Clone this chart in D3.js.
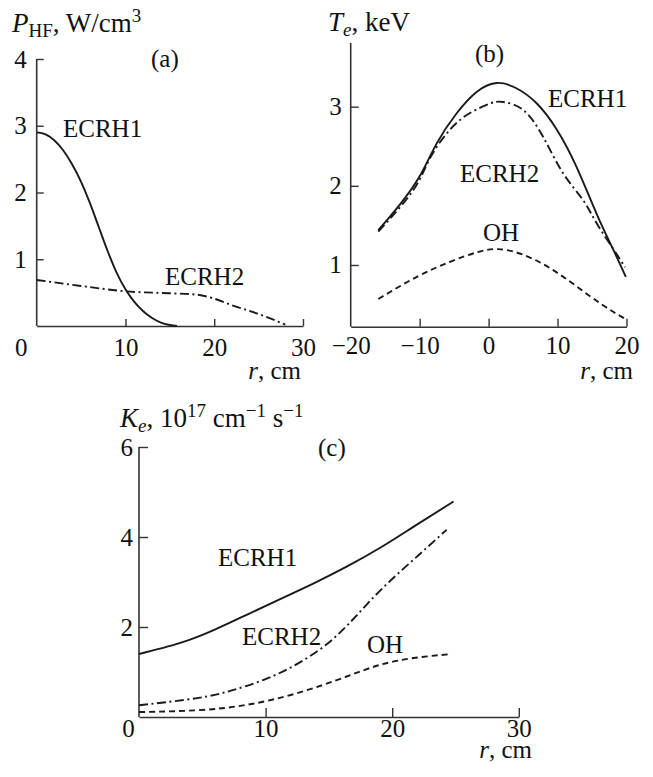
<!DOCTYPE html>
<html>
<head>
<meta charset="utf-8">
<script src="https://cdn.jsdelivr.net/npm/d3@7"></script>
<style>
  html, body { margin: 0; padding: 0; background: #fff; }
  svg { display: block; }
  text { font-family: "Liberation Serif", "Times New Roman", serif; fill: #111; }
</style>
</head>
<body>
<svg id="fig" width="653" height="777"></svg>
<script>
// ---- (a) HF power deposition profiles, P_HF (W/cm^3) vs r (cm)
const aEcrh1R = [0, 1, 2, 3, 4, 5, 6, 7, 8, 9, 10, 11, 12, 13, 14, 15, 15.8];
const aEcrh1P = [2.9, 2.87, 2.78, 2.63, 2.42, 2.16, 1.84, 1.48, 1.12, 0.8, 0.55, 0.36, 0.22, 0.12, 0.05, 0.015, 0];
const aEcrh2R = [0, 5, 10, 15, 18, 20, 22, 25, 28];
const aEcrh2P = [0.69, 0.6, 0.52, 0.49, 0.47, 0.41, 0.31, 0.18, 0.02];
const aXTicks = [0, 10, 20, 30];
const aYTicks = [1, 2, 3, 4];

// ---- (b) electron temperature profiles, T_e (keV) vs r (cm)
const bEcrh1R = [-16, -12.9, -10, -7.5, -4.6, -1.7, 1.2, 4.1, 7.0, 9.9, 12.75, 15.65, 18.1, 19.9];
const bEcrh1T = [1.44, 1.76, 2.12, 2.54, 2.92, 3.19, 3.30, 3.23, 3.04, 2.71, 2.24, 1.65, 1.19, 0.85];
const bEcrh2R = [-16, -10.9, -8.5, -5.6, -2.7, 0.2, 2.1, 5.0, 7.9, 10.8, 13.7, 15.65, 18.1, 19.8];
const bEcrh2T = [1.42, 1.95, 2.35, 2.71, 2.92, 3.04, 3.06, 2.96, 2.62, 2.16, 1.82, 1.53, 1.2, 0.97];
const bOhR = [-16, -10.4, -5.6, -1.7, 1.4, 5.0, 8.9, 12.75, 16.6, 19.8];
const bOhT = [0.57, 0.85, 1.04, 1.16, 1.20, 1.13, 0.96, 0.73, 0.49, 0.32];
const bXTicks = [-20, -10, 0, 10, 20];
const bYTicks = [1, 2, 3];

// ---- (c) electron heat conduction, K_e (10^17 cm^-1 s^-1) vs r (cm)
const cEcrh1R = [0, 3.2, 5.9, 8.5, 11.15, 13.8, 16.4, 19.05, 21.7, 24.85];
const cEcrh1K = [1.40, 1.64, 1.93, 2.27, 2.62, 2.97, 3.34, 3.76, 4.23, 4.79];
const cEcrh2R = [0, 4.6, 7.2, 9.8, 12.5, 15.1, 17.2, 19.3, 21.7, 24.3];
const cEcrh2K = [0.26, 0.42, 0.58, 0.82, 1.18, 1.68, 2.26, 2.88, 3.5, 4.16];
const cOhR = [0, 4.6, 8.5, 12.5, 16.4, 19.05, 21.7, 24.7];
const cOhK = [0.11, 0.15, 0.27, 0.53, 0.90, 1.16, 1.31, 1.40];
const cXTicks = [0, 10, 20, 30];
const cYTicks = [2, 4, 6];

const FONT = 25;     // tick labels and curve names
const TITLE = 27;    // axis titles
const SMALL = 19;    // sub- and superscripts
const svg = d3.select("#fig");

const dashes = {
  solid: null,
  dashdot: "9,3.5,2,3.5",
  dashed: "6,4"
};

function zip(xs, ys) { return xs.map((x, i) => ({ x, y: ys[i] })); }

function panel(cfg) {
  const g = svg.append("g");
  const x = d3.scaleLinear().domain(cfg.xDomain).range(cfg.xRange);
  const y = d3.scaleLinear().domain(cfg.yDomain).range(cfg.yRange);
  const fmt = d => d < 0 ? "\u2212" + Math.abs(d) : String(d);

  // x axis: ticks point up into the plot
  const xa = g.append("g")
    .attr("transform", `translate(0,${cfg.yRange[0]})`)
    .call(d3.axisBottom(x).tickValues(cfg.xTicks).tickSizeInner(-cfg.tick).tickSizeOuter(0)
      .tickPadding(cfg.xPad).tickFormat(fmt));
  // y axis: ticks point right into the plot
  const ya = g.append("g")
    .attr("transform", `translate(${cfg.xRange[0]},0)`)
    .call(d3.axisLeft(y).tickValues(cfg.yTicks).tickSizeInner(-cfg.tick).tickSizeOuter(0)
      .tickPadding(cfg.yPad).tickFormat(fmt));
  [xa, ya].forEach(a => {
    a.select(".domain").attr("stroke", "#333").attr("stroke-width", 1.6);
    a.selectAll(".tick line").attr("stroke", "#333").attr("stroke-width", 1.4);
    a.selectAll("text").attr("font-size", FONT).attr("font-family", "Liberation Serif").attr("fill", "#111");
  });
  // the origin label sits left of the vertical axis
  xa.selectAll(".tick").filter(d => d === cfg.xDomain[0])
    .select("text").attr("dx", cfg.zeroShift);
  xa.selectAll(".tick").filter(d => d === cfg.xDomain[0]).select("line").remove();
  ya.select(".domain").attr("d", `M0,${cfg.yRange[0]}V${y(cfg.yTop)}`);

  cfg.series.forEach(s => {
    const line = d3.line().x(d => x(d.x)).y(d => y(d.y)).curve(s.curve || cfg.curve);
    g.append("path")
      .datum(zip(s.r, s.v))
      .attr("d", line)
      .attr("fill", "none")
      .attr("stroke", "#1a1a1a")
      .attr("stroke-width", 1.9)
      .attr("stroke-dasharray", dashes[s.style]);
  });
  return { g, x, y };
}

// text made of runs: italic, reduced size, vertical shift relative to previous run
function label(g, x, y, parts, anchor, size) {
  const t = g.append("text").attr("x", x).attr("y", y).attr("font-size", size || FONT)
    .attr("text-anchor", anchor || "start");
  parts.forEach(p => {
    const ts = t.append("tspan").text(p.t);
    if (p.i) ts.attr("font-style", "italic");
    if (p.s) ts.attr("font-size", SMALL);
    if (p.dy) ts.attr("dy", p.dy);
  });
  return t;
}

// (a)
const A = panel({
  xDomain: [0, 30], xRange: [36.7, 303], yDomain: [0, 4], yRange: [326, 59], yTop: 4,
  xTicks: aXTicks, yTicks: aYTicks, tick: 7, xPad: 12, yPad: 10, zeroShift: -16,
  curve: d3.curveMonotoneX,
  series: [
    { r: aEcrh1R, v: aEcrh1P, style: "solid" },
    { r: aEcrh2R, v: aEcrh2P, style: "dashdot" }
  ]
});
label(A.g, 12, 32, [{ t: "P", i: true }, { t: "HF", s: true, dy: 5 }, { t: ", W/cm", dy: -5 }, { t: "3", s: true, dy: -10 }], "start", TITLE);
label(A.g, 151, 67, [{ t: "(a)" }]);
label(A.g, 63, 137, [{ t: "ECRH1" }]);
label(A.g, 165, 285, [{ t: "ECRH2" }]);
label(A.g, 301, 379, [{ t: "r", i: true }, { t: ", cm" }], "end");

// (b)
const B = panel({
  xDomain: [-20, 20], xRange: [350.7, 626.5], yDomain: [0.22, 3], yRange: [326.7, 106.7], yTop: 3.805,
  xTicks: bXTicks, yTicks: bYTicks, tick: 8, xPad: 10, yPad: 9, zeroShift: 0,
  curve: d3.curveNatural,
  series: [
    { r: bEcrh1R, v: bEcrh1T, style: "solid" },
    { r: bEcrh2R, v: bEcrh2T, style: "dashdot" },
    { r: bOhR, v: bOhT, style: "dashed" }
  ]
});
label(B.g, 328, 31, [{ t: "T", i: true }, { t: "e", i: true, s: true, dy: 5 }, { t: ", keV", dy: -5 }], "start", TITLE);
label(B.g, 475, 62, [{ t: "(b)" }]);
label(B.g, 548, 107, [{ t: "ECRH1" }]);
label(B.g, 460, 182, [{ t: "ECRH2" }]);
label(B.g, 483, 241, [{ t: "OH" }]);
label(B.g, 633, 379, [{ t: "r", i: true }, { t: ", cm" }], "end");

// (c)
const C = panel({
  xDomain: [0, 30], xRange: [139, 518.8], yDomain: [0, 6], yRange: [717, 447], yTop: 6,
  xTicks: cXTicks, yTicks: cYTicks, tick: 9, xPad: 2, yPad: 6, zeroShift: -11,
  curve: d3.curveNatural,
  series: [
    { r: cEcrh1R, v: cEcrh1K, style: "solid" },
    { r: cEcrh2R, v: cEcrh2K, style: "dashdot" },
    { r: cOhR, v: cOhK, style: "dashed" }
  ]
});
label(C.g, 120, 427, [{ t: "K", i: true }, { t: "e", i: true, s: true, dy: 5 }, { t: ", 10", dy: -5 }, { t: "17", s: true, dy: -10 },
  { t: " cm", dy: 10 }, { t: "\u22121", s: true, dy: -10 }, { t: " s", dy: 10 }, { t: "\u22121", s: true, dy: -10 }], "start", TITLE);
label(C.g, 318, 456, [{ t: "(c)" }]);
label(C.g, 218, 566, [{ t: "ECRH1" }]);
label(C.g, 242, 645, [{ t: "ECRH2" }]);
label(C.g, 367, 653, [{ t: "OH" }]);
label(C.g, 532, 758, [{ t: "r", i: true }, { t: ", cm" }], "end");
</script>
</body>
</html>
